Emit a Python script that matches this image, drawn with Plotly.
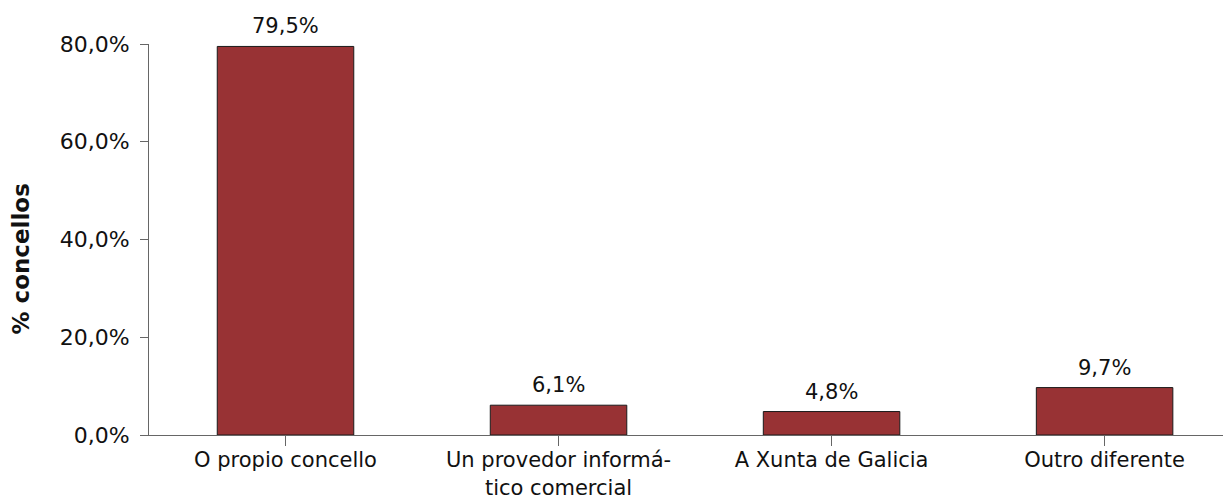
import plotly.graph_objects as go

categories = ["O propio concello", "Un provedor informá-<br>tico comercial",
              "A Xunta de Galicia", "Outro diferente"]
values = [79.5, 6.1, 4.8, 9.7]
labels = ["79,5%", "6,1%", "4,8%", "9,7%"]
y_ticks = [0, 20, 40, 60, 80]
y_ticktext = ["0,0%", "20,0%", "40,0%", "60,0%", "80,0%"]

fig = go.Figure()
fig.add_trace(go.Bar(
    x=categories,
    y=values,
    width=0.5,
    marker=dict(color="#983234", line=dict(color="#1a1a1a", width=1)),
    cliponaxis=False,
))

# value labels above bars
for c, v, t in zip(categories, values, labels):
    fig.add_annotation(x=c, y=v, text=t, showarrow=False,
                       yanchor="bottom", yshift=6,
                       font=dict(size=21, color="#111111"))

# y title as annotation so it can sit a bit lower than centre
fig.add_annotation(text="<b>% concellos</b>", textangle=-90,
                   xref="paper", yref="paper", x=0, y=0.5,
                   xanchor="center", yanchor="middle",
                   xshift=-129, yshift=-20, showarrow=False,
                   font=dict(size=23, color="#111111"))

# page has an 8px body margin, so margins are shifted to compensate
fig.update_layout(
    width=1223, height=495,
    margin=dict(l=141, r=0, t=36, b=68),
    plot_bgcolor="white", paper_bgcolor="white",
    font=dict(family="DejaVu Sans", size=22, color="#111111"),
    showlegend=False,
)
fig.update_xaxes(
    range=[-0.5, 3.463],
    showline=True, linecolor="#666666", linewidth=1,
    ticks="outside", ticklen=10, tickcolor="#666666",
    tickfont=dict(size=21), ticklabelstandoff=-4,
    showgrid=False, tickangle=0, automargin=False,
)
fig.update_yaxes(
    range=[0, 80],
    tickvals=y_ticks, ticktext=y_ticktext,
    showline=True, linecolor="#666666", linewidth=1,
    ticks="outside", ticklen=8, tickcolor="#666666",
    ticklabelstandoff=6, automargin=False,
    showgrid=False, zeroline=False,
)

fig.write_html("out.html")
